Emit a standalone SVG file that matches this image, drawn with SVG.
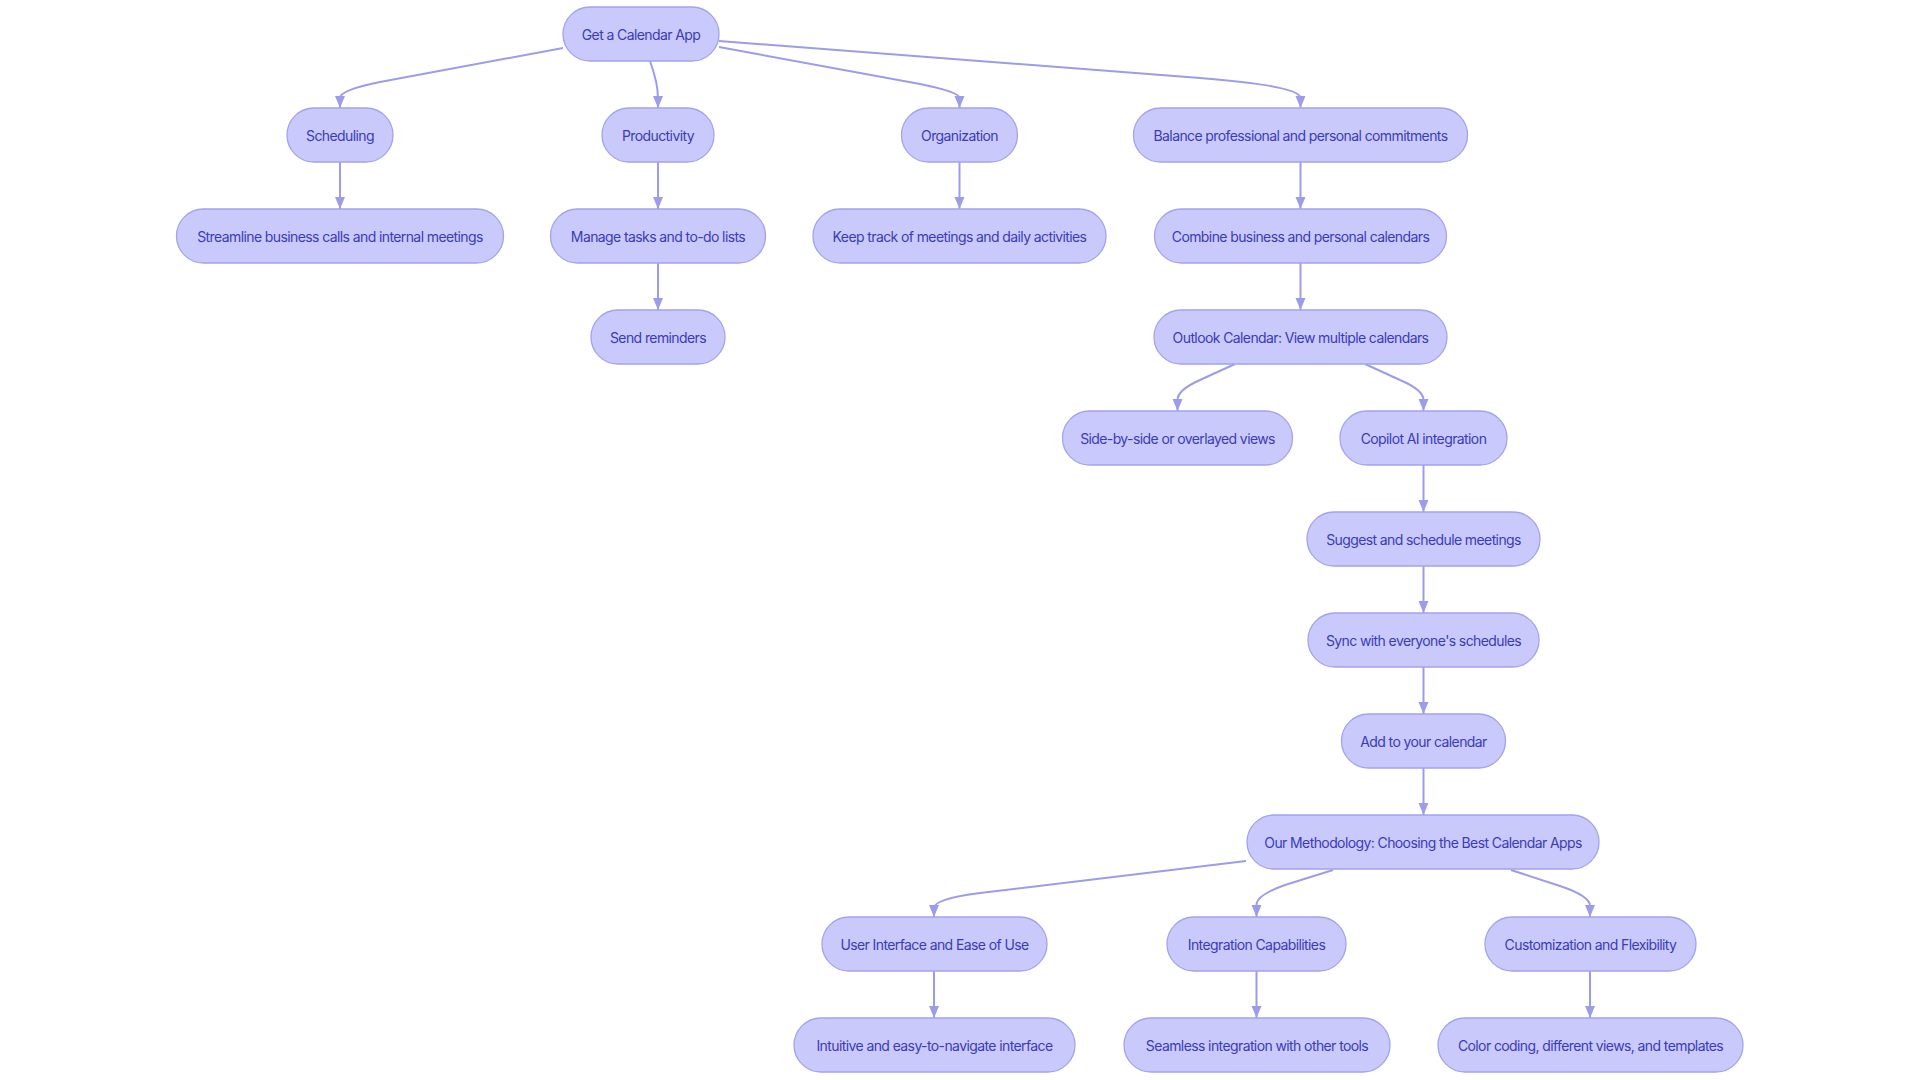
<svg xmlns="http://www.w3.org/2000/svg" width="1920" height="1080" viewBox="0 0 1920 1080">
<style>
.node rect{fill:#c9c9fb;stroke:#a3a3ee;stroke-width:1.3}
.node text{font-family:Inter,"Noto Sans",sans-serif;font-size:14px;fill:#3b3bb6;text-anchor:middle;dominant-baseline:central;letter-spacing:-0.6px}
.edge{fill:none;stroke:#9c9ceb;stroke-width:2;marker-end:url(#arr)}
</style>
<defs>
<marker id="arr" markerUnits="userSpaceOnUse" viewBox="0 0 12 12" refX="12" refY="6" markerWidth="12" markerHeight="12" orient="auto">
<path d="M0,1 L12,6 L0,11 z" fill="#9c9ceb"/>
</marker>
</defs>
<rect width="1920" height="1080" fill="#ffffff"/>
<g id="connectors">
<path class="edge" d="M563,48 L380,82 Q340,90 340,98 L340,108"/>
<path class="edge" d="M650,61 C655,75 658,85 658,98 L658,108"/>
<path class="edge" d="M719,47 L920,84 Q959.5,92 959.5,98 L959.5,108"/>
<path class="edge" d="M719,41 L1200,78 Q1300.5,86 1300.5,98 L1300.5,108"/>
<path class="edge" d="M340,162 L340,209"/>
<path class="edge" d="M658,162 L658,209"/>
<path class="edge" d="M959.5,162 L959.5,209"/>
<path class="edge" d="M1300.5,162 L1300.5,209"/>
<path class="edge" d="M658,263 L658,310"/>
<path class="edge" d="M1300.5,263 L1300.5,310"/>
<path class="edge" d="M1235,364 L1200,380 Q1177.5,390 1177.5,400 L1177.5,411"/>
<path class="edge" d="M1365,364 L1400,380 Q1423.5,390 1423.5,400 L1423.5,411"/>
<path class="edge" d="M1423.5,465 L1423.5,512"/>
<path class="edge" d="M1423.5,566 L1423.5,613"/>
<path class="edge" d="M1423.5,667 L1423.5,714"/>
<path class="edge" d="M1423.5,768 L1423.5,815"/>
<path class="edge" d="M1246,861 L980,893 Q934,899 934,908 L934,917"/>
<path class="edge" d="M1333,870 L1285,885 Q1256.5,895 1256.5,905 L1256.5,917"/>
<path class="edge" d="M1511,870 L1560,886 Q1590,896 1590,906 L1590,917"/>
<path class="edge" d="M934,971 L934,1018"/>
<path class="edge" d="M1256.5,971 L1256.5,1018"/>
<path class="edge" d="M1590,971 L1590,1018"/>
</g>
<g id="n_root" class="node"><rect x="563" y="7" width="156" height="54" rx="27"/><text x="641" y="34">Get a Calendar App</text></g>
<g id="n_sched" class="node"><rect x="287" y="108" width="106" height="54" rx="27"/><text x="340" y="135">Scheduling</text></g>
<g id="n_prod" class="node"><rect x="602" y="108" width="112" height="54" rx="27"/><text x="658" y="135">Productivity</text></g>
<g id="n_org" class="node"><rect x="901.5" y="108" width="116" height="54" rx="27"/><text x="959.5" y="135">Organization</text></g>
<g id="n_bal" class="node"><rect x="1133.5" y="108" width="334" height="54" rx="27"/><text x="1300.5" y="135">Balance professional and personal commitments</text></g>
<g id="n_stream" class="node"><rect x="176.5" y="209" width="327" height="54" rx="27"/><text x="340" y="236">Streamline business calls and internal meetings</text></g>
<g id="n_manage" class="node"><rect x="550.5" y="209" width="215" height="54" rx="27"/><text x="658" y="236">Manage tasks and to-do lists</text></g>
<g id="n_keep" class="node"><rect x="813" y="209" width="293" height="54" rx="27"/><text x="959.5" y="236">Keep track of meetings and daily activities</text></g>
<g id="n_combine" class="node"><rect x="1154.5" y="209" width="292" height="54" rx="27"/><text x="1300.5" y="236">Combine business and personal calendars</text></g>
<g id="n_send" class="node"><rect x="591" y="310" width="134" height="54" rx="27"/><text x="658" y="337">Send reminders</text></g>
<g id="n_outlook" class="node"><rect x="1154" y="310" width="293" height="54" rx="27"/><text x="1300.5" y="337">Outlook Calendar: View multiple calendars</text></g>
<g id="n_side" class="node"><rect x="1062.5" y="411" width="230" height="54" rx="27"/><text x="1177.5" y="438">Side-by-side or overlayed views</text></g>
<g id="n_copilot" class="node"><rect x="1340" y="411" width="167" height="54" rx="27"/><text x="1423.5" y="438">Copilot AI integration</text></g>
<g id="n_suggest" class="node"><rect x="1307" y="512" width="233" height="54" rx="27"/><text x="1423.5" y="539">Suggest and schedule meetings</text></g>
<g id="n_sync" class="node"><rect x="1308" y="613" width="231" height="54" rx="27"/><text x="1423.5" y="640">Sync with everyone's schedules</text></g>
<g id="n_add" class="node"><rect x="1341.5" y="714" width="164" height="54" rx="27"/><text x="1423.5" y="741">Add to your calendar</text></g>
<g id="n_method" class="node"><rect x="1247" y="815" width="352" height="54" rx="27"/><text x="1423" y="842">Our Methodology: Choosing the Best Calendar Apps</text></g>
<g id="n_ui" class="node"><rect x="822" y="917" width="225" height="54" rx="27"/><text x="934.5" y="944">User Interface and Ease of Use</text></g>
<g id="n_integ" class="node"><rect x="1167" y="917" width="179" height="54" rx="27"/><text x="1256.5" y="944">Integration Capabilities</text></g>
<g id="n_custom" class="node"><rect x="1485" y="917" width="211" height="54" rx="27"/><text x="1590.5" y="944">Customization and Flexibility</text></g>
<g id="n_intuitive" class="node"><rect x="794" y="1018" width="281" height="54" rx="27"/><text x="934.5" y="1045">Intuitive and easy-to-navigate interface</text></g>
<g id="n_seamless" class="node"><rect x="1124" y="1018" width="266" height="54" rx="27"/><text x="1257" y="1045">Seamless integration with other tools</text></g>
<g id="n_color" class="node"><rect x="1438" y="1018" width="305" height="54" rx="27"/><text x="1590.5" y="1045">Color coding, different views, and templates</text></g>
</svg>
